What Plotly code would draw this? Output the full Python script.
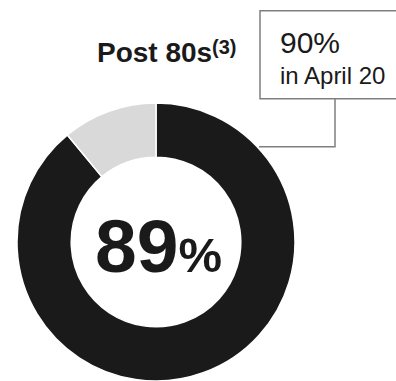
import plotly.graph_objects as go

labels = ["Post 80s", "Other"]
values = [89, 11]
colors = ["#1a1a1a", "#d9d9d9"]
title_text = "Post 80s"
title_note = "(3)"
center_value = "89"
prev_value = "90%"
prev_label = "in April 20"

W, H = 396, 381
FONT = "Liberation Sans, Arial, sans-serif"

def px(x):
    return x / W

def py(y):
    return 1 - y / H

fig = go.Figure()
fig.add_trace(go.Pie(
    labels=labels, values=values, sort=False, direction="clockwise", rotation=0,
    hole=0.61, marker=dict(colors=colors, line=dict(color="white", width=1.5)),
    textinfo="none", hoverinfo="skip", showlegend=False,
    domain=dict(x=[px(16), px(296)], y=[0, py(103)]),
))

fig.add_annotation(x=px(214), y=py(52), xref="paper", yref="paper", xanchor="right", yanchor="middle",
                   text=f"<b>{title_text}</b>", showarrow=False,
                   font=dict(family=FONT, size=28, color="#1a1a1a"))
fig.add_annotation(x=px(210), y=py(47), xref="paper", yref="paper", xanchor="left", yanchor="middle",
                   text=f"<b>{title_note}</b>", showarrow=False,
                   font=dict(family=FONT, size=20, color="#1a1a1a"))
fig.add_annotation(x=px(158), y=py(246), xref="paper", yref="paper", xanchor="center", yanchor="middle",
                   text=f"<b>{center_value}<span style='font-size:49px'>%</span></b>", showarrow=False,
                   font=dict(family=FONT, size=75, color="#1a1a1a"))
fig.add_annotation(x=px(278), y=py(42), xref="paper", yref="paper", xanchor="left", yanchor="middle",
                   text=prev_value, showarrow=False,
                   font=dict(family=FONT, size=30, color="#1a1a1a"))
fig.add_annotation(x=px(278), y=py(76), xref="paper", yref="paper", xanchor="left", yanchor="middle",
                   text=prev_label, showarrow=False,
                   font=dict(family=FONT, size=24, color="#1a1a1a"))

fig.add_shape(type="rect", xref="paper", yref="paper",
              x0=px(260), x1=px(420), y0=py(98.7), y1=py(10.7),
              line=dict(color="#7f7f7f", width=1.5), fillcolor="rgba(0,0,0,0)")
fig.add_shape(type="path", xref="paper", yref="paper",
              path=f"M {px(335)},{py(98.7)} L {px(335)},{py(146.7)} L {px(259)},{py(146.7)}",
              line=dict(color="#7f7f7f", width=1.5))

fig.update_layout(width=W, height=H, margin=dict(l=0, r=0, t=0, b=0),
                  paper_bgcolor="white", plot_bgcolor="white")
fig.write_html("out.html")
